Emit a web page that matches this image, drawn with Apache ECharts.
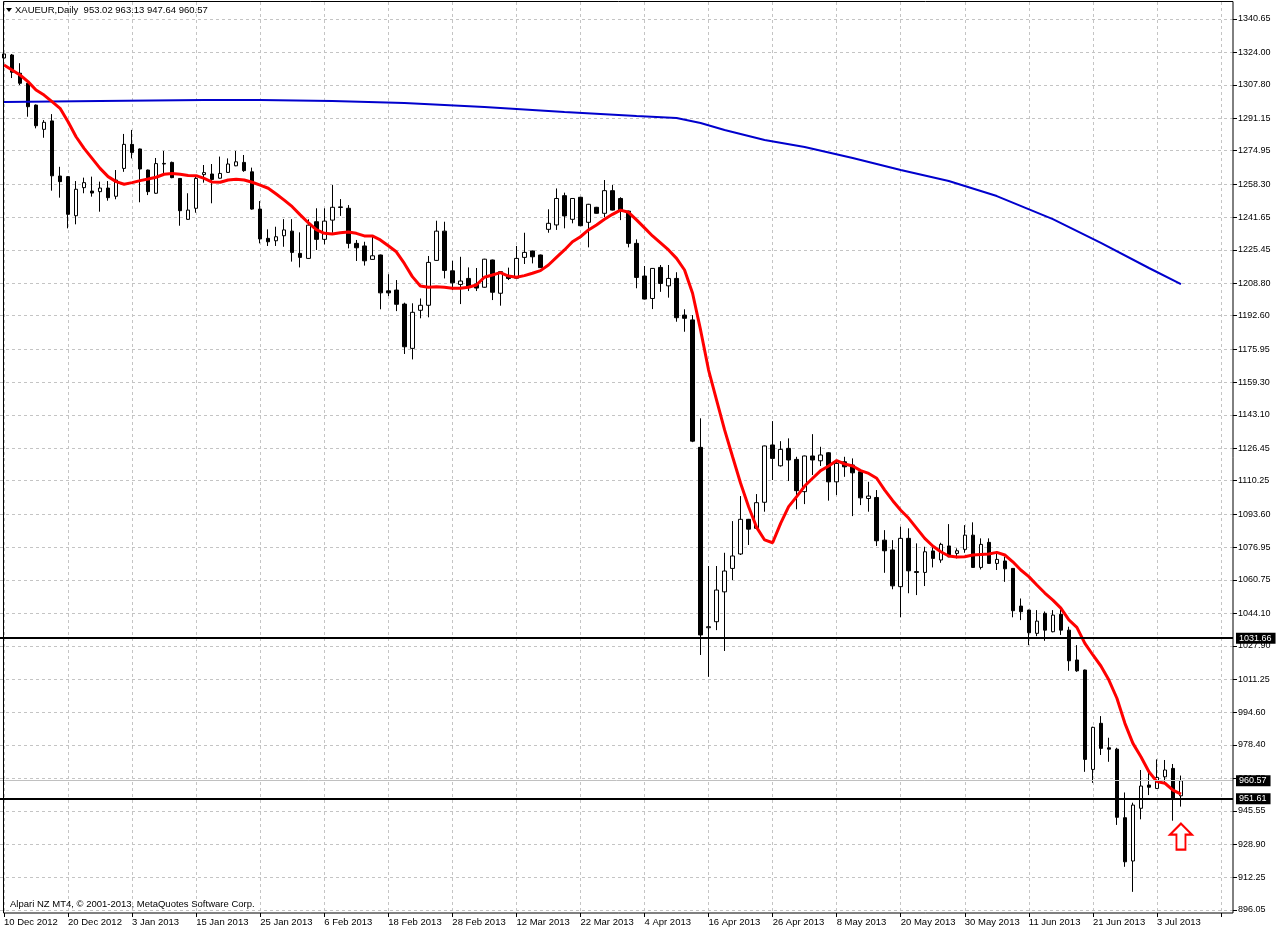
<!DOCTYPE html>
<html>
<head>
<meta charset="utf-8">
<title>XAUEUR,Daily</title>
<script src="https://cdn.jsdelivr.net/npm/echarts@6/dist/echarts.min.js"></script>
<style>
  html, body { margin: 0; padding: 0; background: #fff; }
  #chart { width: 1276px; height: 931px; }
</style>
</head>
<body>
<div id="chart"></div>
<script>
// ==================== data ====================

const SYMBOL = 'XAUEUR';
const PERIOD = 'Daily';
const COPYRIGHT = 'Alpari NZ MT4, \u00a9 2001-2013, MetaQuotes Software Corp.';

// one trading day per bar
const dates = [
    '10 Dec 2012','11 Dec 2012','12 Dec 2012','13 Dec 2012','14 Dec 2012','17 Dec 2012','18 Dec 2012','19 Dec 2012',
    '20 Dec 2012','21 Dec 2012','24 Dec 2012','26 Dec 2012','27 Dec 2012','28 Dec 2012','31 Dec 2012','2 Jan 2013',
    '3 Jan 2013','4 Jan 2013','7 Jan 2013','8 Jan 2013','9 Jan 2013','10 Jan 2013','11 Jan 2013','14 Jan 2013',
    '15 Jan 2013','16 Jan 2013','17 Jan 2013','18 Jan 2013','21 Jan 2013','22 Jan 2013','23 Jan 2013','24 Jan 2013',
    '25 Jan 2013','28 Jan 2013','29 Jan 2013','30 Jan 2013','31 Jan 2013','1 Feb 2013','4 Feb 2013','5 Feb 2013',
    '6 Feb 2013','7 Feb 2013','8 Feb 2013','11 Feb 2013','12 Feb 2013','13 Feb 2013','14 Feb 2013','15 Feb 2013',
    '18 Feb 2013','19 Feb 2013','20 Feb 2013','21 Feb 2013','22 Feb 2013','25 Feb 2013','26 Feb 2013','27 Feb 2013',
    '28 Feb 2013','1 Mar 2013','4 Mar 2013','5 Mar 2013','6 Mar 2013','7 Mar 2013','8 Mar 2013','11 Mar 2013',
    '12 Mar 2013','13 Mar 2013','14 Mar 2013','15 Mar 2013','18 Mar 2013','19 Mar 2013','20 Mar 2013','21 Mar 2013',
    '22 Mar 2013','25 Mar 2013','26 Mar 2013','27 Mar 2013','28 Mar 2013','1 Apr 2013','2 Apr 2013','3 Apr 2013',
    '4 Apr 2013','5 Apr 2013','8 Apr 2013','9 Apr 2013','10 Apr 2013','11 Apr 2013','12 Apr 2013','15 Apr 2013',
    '16 Apr 2013','17 Apr 2013','18 Apr 2013','19 Apr 2013','22 Apr 2013','23 Apr 2013','24 Apr 2013','25 Apr 2013',
    '26 Apr 2013','29 Apr 2013','30 Apr 2013','1 May 2013','2 May 2013','3 May 2013','6 May 2013','7 May 2013',
    '8 May 2013','9 May 2013','10 May 2013','13 May 2013','14 May 2013','15 May 2013','16 May 2013','17 May 2013',
    '20 May 2013','21 May 2013','22 May 2013','23 May 2013','24 May 2013','27 May 2013','28 May 2013','29 May 2013',
    '30 May 2013','31 May 2013','3 Jun 2013','4 Jun 2013','5 Jun 2013','6 Jun 2013','7 Jun 2013','10 Jun 2013',
    '11 Jun 2013','12 Jun 2013','13 Jun 2013','14 Jun 2013','17 Jun 2013','18 Jun 2013','19 Jun 2013','20 Jun 2013',
    '21 Jun 2013','24 Jun 2013','25 Jun 2013','26 Jun 2013','27 Jun 2013','28 Jun 2013','1 Jul 2013','2 Jul 2013',
    '3 Jul 2013','4 Jul 2013','5 Jul 2013','8 Jul 2013'
];

const openPrices = [
    1321.2,1322.7,1313.6,1308.6,1297.7,1285.6,1289.8,1262.3,1262.0,1242.5,1256.5,1254.8,1254.5,1256.3,1252.2,1266.1,
    1278.1,1275.8,1265.3,1253.7,1268.3,1269.1,1261.1,1240.7,1246.2,1263.0,1263.3,1261.2,1264.1,1267.4,1269.1,1264.4,
    1245.8,1231.2,1230.0,1232.5,1234.8,1223.7,1221.2,1239.5,1230.7,1240.3,1246.6,1246.2,1228.7,1227.4,1220.7,1222.9,
    1205.0,1205.4,1198.4,1176.3,1195.3,1197.8,1220.2,1234.8,1215.0,1208.2,1211.2,1208.4,1206.8,1220.4,1203.8,1212.4,
    1211.3,1221.7,1224.9,1222.9,1235.7,1237.9,1252.5,1240.7,1251.7,1239.2,1246.7,1243.7,1255.0,1251.1,1244.8,1228.7,
    1212.4,1201.2,1216.7,1207.5,1211.2,1192.9,1190.5,1126.9,1036.9,1039.9,1054.8,1066.5,1073.7,1091.0,1086.5,1099.5,
    1128.1,1117.7,1126.4,1120.9,1104.8,1122.6,1120.2,1124.2,1109.7,1119.7,1118.1,1114.7,1101.4,1101.9,1080.6,1075.7,
    1057.4,1081.5,1064.9,1064.5,1075.2,1070.7,1077.7,1074.0,1076.0,1083.1,1067.0,1079.5,1069.0,1070.2,1066.5,1047.7,
    1045.7,1034.1,1044.1,1034.9,1043.6,1035.7,1020.8,1015.8,966.2,989.2,977.0,976.3,942.1,920.5,946.8,958.4,
    956.7,962.5,966.7,953.02
];

const highPrices = [
    1327.2,1323.2,1318.6,1309.0,1298.0,1290.2,1293.2,1266.9,1262.3,1259.8,1261.5,1262.0,1259.5,1259.8,1265.3,1283.3,
    1285.3,1276.0,1265.5,1271.3,1274.8,1269.5,1261.3,1253.7,1262.8,1267.8,1268.3,1272.0,1271.1,1274.8,1272.8,1266.5,
    1249.8,1235.7,1237.0,1240.8,1240.8,1234.2,1240.7,1246.2,1246.2,1257.8,1250.8,1247.8,1230.4,1229.5,1232.5,1223.1,
    1213.3,1210.4,1199.1,1198.8,1201.2,1222.4,1240.0,1239.5,1220.0,1222.0,1216.7,1216.4,1221.0,1220.6,1214.8,1216.6,
    1227.4,1234.0,1225.1,1223.1,1245.7,1256.1,1254.0,1251.3,1251.9,1248.4,1246.9,1260.3,1257.8,1251.7,1245.0,1230.7,
    1217.4,1216.4,1217.9,1217.9,1214.3,1195.8,1192.9,1141.4,1067.7,1067.7,1074.3,1090.1,1102.6,1091.2,1103.6,1127.8,
    1140.0,1130.0,1131.4,1122.2,1122.8,1133.5,1127.2,1124.5,1120.6,1122.2,1121.4,1115.9,1109.7,1105.6,1085.6,1080.6,
    1087.3,1086.5,1079.0,1077.3,1077.0,1079.3,1088.6,1076.5,1088.1,1089.5,1081.5,1081.5,1074.8,1072.3,1066.7,1051.5,
    1045.9,1045.7,1045.0,1045.7,1046.0,1037.4,1028.2,1016.0,987.5,992.8,982.0,977.0,954.7,949.6,965.9,965.9,
    971.2,970.9,968.9,963.13
];

const lowPrices = [
    1320.2,1311.2,1307.7,1291.9,1286.1,1281.4,1255.0,1251.5,1236.2,1238.2,1253.7,1252.0,1244.5,1250.0,1250.7,1264.4,
    1271.1,1249.2,1252.8,1253.5,1262.8,1261.2,1237.5,1240.5,1244.0,1259.0,1248.7,1261.0,1263.9,1267.2,1264.4,1245.5,
    1228.7,1227.4,1227.4,1227.0,1219.6,1216.7,1221.0,1225.4,1228.2,1234.0,1242.4,1226.2,1219.9,1217.6,1220.6,1195.8,
    1202.4,1194.9,1173.5,1170.8,1191.3,1191.8,1220.0,1211.2,1205.4,1198.4,1204.9,1204.9,1206.6,1200.4,1197.6,1210.4,
    1211.0,1218.4,1218.7,1216.4,1234.0,1235.4,1236.2,1238.7,1237.3,1226.7,1243.5,1241.7,1245.1,1240.3,1226.7,1206.3,
    1200.7,1195.9,1204.5,1201.6,1189.6,1184.6,1129.5,1023.3,1012.4,1035.7,1025.3,1060.7,1073.2,1078.2,1086.3,1094.8,
    1110.6,1117.3,1110.1,1096.0,1098.6,1113.1,1117.6,1100.3,1103.1,1112.2,1092.6,1098.1,1094.8,1077.7,1064.3,1056.1,
    1042.1,1054.1,1053.2,1057.7,1067.0,1069.3,1072.1,1071.5,1074.3,1066.8,1066.0,1068.8,1065.7,1059.8,1042.1,1040.7,
    1028.2,1032.7,1030.4,1034.6,1033.3,1015.4,1014.9,965.0,959.5,973.4,970.0,938.5,917.6,905.1,941.3,953.4,
    956.5,960.0,940.6,947.64
];

const closePrices = [
    1323.2,1314.1,1308.6,1296.9,1287.4,1289.1,1262.4,1259.5,1243.2,1255.7,1259.0,1253.8,1256.3,1251.5,1260.3,1278.1,
    1274.1,1265.8,1254.5,1268.5,1268.6,1261.5,1245.0,1245.3,1261.1,1264.0,1260.6,1263.6,1268.3,1269.4,1265.0,1245.8,
    1230.9,1229.5,1232.0,1235.4,1224.2,1221.7,1237.8,1230.7,1239.8,1246.7,1246.9,1228.7,1226.5,1220.0,1222.5,1204.0,
    1204.0,1198.3,1177.1,1194.3,1197.8,1219.2,1234.8,1215.2,1209.0,1209.9,1207.4,1206.4,1220.8,1204.3,1214.6,1211.2,
    1221.2,1224.2,1222.0,1216.6,1238.7,1251.1,1242.4,1251.1,1237.5,1248.2,1243.7,1255.0,1245.3,1244.8,1228.7,1211.7,
    1200.9,1216.2,1208.7,1211.2,1191.6,1191.3,1130.0,1033.3,1037.4,1055.7,1065.2,1072.7,1091.0,1086.1,1099.3,1127.6,
    1121.4,1125.9,1120.6,1105.3,1122.6,1120.6,1123.1,1109.7,1118.9,1117.2,1114.2,1101.7,1102.6,1080.3,1075.3,1057.8,
    1081.5,1065.3,1064.5,1074.8,1071.5,1078.5,1072.3,1075.3,1083.1,1067.0,1078.5,1069.0,1071.0,1066.3,1045.4,1044.9,
    1034.4,1040.2,1035.7,1043.2,1035.7,1020.4,1015.4,971.2,987.2,976.7,976.3,942.3,920.1,948.4,957.9,957.3,
    962.2,965.9,951.7,960.57
];

// red moving average, one value per bar
const maFast = [
    1317.7,1315.2,1312.7,1309.4,1305.2,1302.7,1299.4,1296.1,1289.4,1281.9,1276.1,1271.1,1266.1,1262.0,1259.5,1258.2,
    1259.0,1260.0,1260.8,1261.7,1263.2,1263.6,1263.2,1262.6,1262.5,1261.1,1259.3,1259.2,1260.3,1260.7,1260.3,1259.2,
    1257.8,1256.2,1253.3,1250.3,1247.0,1242.9,1239.0,1235.5,1233.7,1233.4,1234.0,1234.4,1233.7,1232.4,1232.4,1230.4,
    1227.5,1224.5,1218.7,1212.1,1207.4,1206.8,1207.1,1206.8,1206.3,1206.3,1206.8,1207.9,1211.8,1212.9,1214.1,1212.4,
    1211.8,1212.6,1213.8,1215.1,1217.9,1221.7,1225.4,1229.5,1232.0,1235.4,1237.9,1240.7,1243.2,1245.3,1244.2,1240.4,
    1236.4,1232.4,1228.9,1225.4,1221.2,1215.4,1203.8,1185.5,1165.5,1150.5,1135.6,1122.2,1109.0,1097.3,1087.0,1080.7,
    1079.3,1089.0,1097.3,1102.3,1107.6,1111.5,1115.3,1117.6,1120.3,1118.6,1117.6,1115.3,1113.9,1111.5,1105.6,1100.3,
    1095.5,1091.5,1086.5,1081.5,1077.7,1074.8,1072.7,1072.2,1072.3,1073.2,1073.5,1073.7,1074.5,1073.2,1069.8,1065.7,
    1062.4,1058.2,1054.2,1050.7,1046.7,1040.8,1037.1,1029.1,1023.3,1017.8,1010.8,1001.7,989.2,979.2,972.5,965.0,
    960.1,959.3,955.9,953.9
];

// blue long moving average, read at sample bars
const maSlowBars   = [0, 12, 25, 32, 41, 50, 60, 70, 79, 84, 87, 90, 95, 100, 106, 112, 118, 124, 131, 137, 143, 147];
const maSlowValues = [1299.2,1299.7,1300.2,1300.2,1299.7,1298.7,1296.7,1294.2,1292.2,1291.3,1288.8,1285.3,1280.3,1276.8,
                      1271.3,1265.3,1259.8,1252.3,1240.8,1228.9,1216.4,1208.4];

// price scale labels on the right
const yTicks = [896.05, 912.25, 928.90, 945.55, 961.75, 978.40, 994.60, 1011.25, 1027.90, 1044.10, 1060.75, 1076.95,
                1093.60, 1110.25, 1126.45, 1143.10, 1159.30, 1175.95, 1192.60, 1208.80, 1225.45, 1241.65, 1258.30,
                1274.95, 1291.15, 1307.80, 1324.00, 1340.65];

// horizontal lines drawn by hand on the chart
const levelLines = [1031.66, 951.61];
const arrowMark = { bar: '8 Jul 2013', value: 932.7 };

// ==================== layout ====================

const FONT = '"Liberation Sans", "DejaVu Sans", sans-serif';
const Y_MIN = 894.55;
const Y_MAX = 1349.14;
const EMPTY_BARS = 6;      // free space on the right of the last bar
const LABEL_EVERY = 8;

const categories = dates.concat(new Array(EMPTY_BARS).fill(''));
const candles = dates.map((d, i) => [openPrices[i], closePrices[i], lowPrices[i], highPrices[i]]);
const slowLine = maSlowBars.map((b, i) => [dates[b], maSlowValues[i]]);

const last = dates.length - 1;
const fmt = v => Number(v).toFixed(2);
const headerText = `${SYMBOL},${PERIOD}  ${fmt(openPrices[last])} ${fmt(highPrices[last])} ${fmt(lowPrices[last])} ${fmt(closePrices[last])}`;

const boxLabel = {
    show: true,
    position: 'end',
    distance: 3,
    formatter: p => fmt(p.value),
    color: '#fff',
    backgroundColor: '#000',
    fontFamily: FONT,
    fontSize: 9,
    lineHeight: 10,
    padding: [1, 4, 0, 3]
};

const gridDash = { color: '#c4c4c4', type: [3, 3], width: 1 };

const option = {
    animation: false,
    backgroundColor: '#fff',
    grid: { left: -0.5, right: 43, top: 2, bottom: 18, containLabel: false },
    xAxis: {
        type: 'category',
        data: categories,
        boundaryGap: true,
        axisLine: { show: false },
        axisTick: { show: true, alignWithLabel: true, interval: LABEL_EVERY - 1, length: 4, lineStyle: { color: '#000' } },
        axisLabel: {
            interval: LABEL_EVERY - 1, align: 'left', margin: 4,
            color: '#000', fontFamily: FONT, fontSize: 9.5
        },
        splitLine: { show: true, interval: LABEL_EVERY - 1, alignWithLabel: true, lineStyle: gridDash }
    },
    yAxis: {
        type: 'value',
        position: 'right',
        min: Y_MIN,
        max: Y_MAX,
        scale: true,
        axisLine: { show: false },
        axisTick: { show: true, customValues: yTicks, length: 4, lineStyle: { color: '#000' } },
        axisLabel: {
            customValues: yTicks, margin: 5, formatter: v => fmt(v),
            color: '#000', fontFamily: FONT, fontSize: 9
        },
        splitLine: { show: true, lineStyle: gridDash }
    },
    series: [
        {
            type: 'candlestick',
            name: SYMBOL,
            data: candles,
            barWidth: 4,
            z: 2,
            itemStyle: {
                color: '#fff', color0: '#000',
                borderColor: '#000', borderColor0: '#000', borderWidth: 1
            },
            markLine: {
                symbol: ['none', 'none'],
                silent: true,
                data: [
                    ...levelLines.map(v => ({ yAxis: v, lineStyle: { color: '#000', width: 2, type: 'solid' } })),
                    { yAxis: closePrices[last], lineStyle: { color: '#c0c0c0', width: 1, type: 'solid' } }
                ],
                label: boxLabel
            },
            markPoint: {
                silent: true,
                symbol: 'path://M11,0 L22,11 L15.5,11 L15.5,26 L6.5,26 L6.5,11 L0,11 Z',
                symbolSize: [22, 26],
                itemStyle: { color: '#fff', borderColor: '#ff0000', borderWidth: 2 },
                label: { show: false },
                data: [{ coord: [arrowMark.bar, arrowMark.value] }]
            }
        },
        {
            type: 'line',
            name: 'MA slow',
            data: slowLine,
            showSymbol: false,
            z: 3,
            lineStyle: { color: '#0000cd', width: 2 }
        },
        {
            type: 'line',
            name: 'MA fast',
            data: maFast,
            showSymbol: false,
            z: 4,
            lineStyle: { color: '#ff0000', width: 3 }
        }
    ],
    graphic: [
        {
            type: 'rect', z: 100, silent: true,
            shape: { x: 3.5, y: 1.5, width: 1229.5, height: 911.5 },
            style: { fill: 'none', stroke: '#000', lineWidth: 1 }
        },
        {
            type: 'polygon', z: 100, silent: true,
            shape: { points: [[6, 8], [12, 8], [9, 12]] },
            style: { fill: '#000' }
        },
        {
            type: 'text', z: 100, silent: true, left: 15, top: 5,
            style: { text: headerText, fill: '#000', font: `9.5px ${FONT}` }
        },
        {
            type: 'text', z: 100, silent: true, left: 10, top: 899,
            style: { text: COPYRIGHT, fill: '#000', font: `9.5px ${FONT}` }
        }
    ]
};

const chart = echarts.init(document.getElementById('chart'), null, { renderer: 'canvas' });
chart.setOption(option);
</script>
</body>
</html>
